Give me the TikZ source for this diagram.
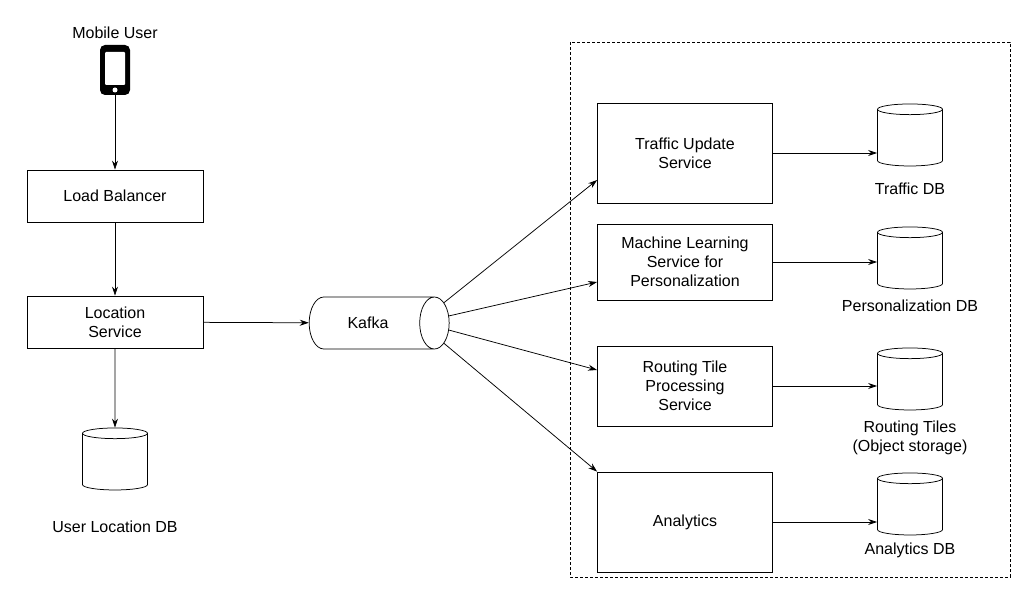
\documentclass[tikz,border=0pt]{standalone}
\usepackage{fontspec}
\setmainfont{Liberation Sans}
\usetikzlibrary{shapes.geometric,arrows.meta}
\tikzset{every picture/.style={line width=0.75pt},
  box/.style={draw,minimum width=176pt,align=center,font=\fontsize{16}{19}\selectfont},
  svc/.style={draw,minimum width=175pt,align=center,font=\fontsize{16}{19}\selectfont},
  db/.style={draw,cylinder,shape border rotate=90,shape aspect=1.6,minimum width=65pt,minimum height=62pt},
  lbl/.style={align=center,font=\fontsize{16}{19}\selectfont},
  arr/.style={-{Stealth[length=9pt,width=6pt]}}}
\begin{document}
\begin{tikzpicture}[x=1pt,y=-1pt]
	\useasboundingbox (0,0) rectangle (1030,599);

	% Mobile user
	\node[lbl] (user) at (115,33) {Mobile User};
	\node[fill=black,rounded corners=5pt,minimum width=30pt,minimum height=50pt,inner sep=0pt] (phone) at (115,70) {};
	\fill[white,rounded corners=1pt] (105,52) rectangle (125,85);
	\fill[white] (115,90) circle (2.5pt);

	% left column
	\node[box,minimum height=52pt] (lb) at (115,196) {Load Balancer};
	\node[box,minimum height=52pt] (loc) at (115,322) {Location\\Service};
	\node[db] (udb) at (115,463) {};
	\node[lbl] (udbl) at (115,527) {User Location DB};

	% Kafka
	\node[draw,cylinder,shape aspect=1.6,minimum width=52pt,minimum height=140pt,lbl] (kafka) at (368,323) {Kafka};

	% dashed group
	\draw[dash pattern={on 3pt off 2pt}] (570,42) rectangle (1010,577);

	% services
	\node[svc,minimum height=100pt] (traffic) at (685,153) {Traffic Update\\Service};
	\node[svc,minimum height=76pt] (ml) at (685,262) {Machine Learning\\Service for\\Personalization};
	\node[svc,minimum height=80pt] (tile) at (685,386) {Routing Tile\\Processing\\Service};
	\node[svc,minimum height=100pt] (ana) at (685,522) {Analytics};

	% databases
	\node[db] (tdb) at (910,139) {};
	\node[lbl] (tdbl) at (910,189) {Traffic DB};
	\node[db] (pdb) at (910,262) {};
	\node[lbl] (pdbl) at (910,306) {Personalization DB};
	\node[db] (rdb) at (910,383) {};
	\node[lbl] (rdbl) at (910,438) {Routing Tiles\\(Object storage)};
	\node[db] (adb) at (910,508) {};
	\node[lbl] (adbl) at (910,550) {Analytics DB};

	% connectors
	\draw[arr] (phone) -- (lb);
	\draw[arr] (lb) -- (loc);
	\draw[arr] (loc) -- (udb);
	\draw[arr] (loc) -- (kafka);
	\draw[arr] (kafka.15) -- (traffic.south west |- 0,180);
	\draw[arr] (kafka.5) -- (ml.south west |- 0,282);
	\draw[arr] (kafka.-5) -- (tile.west |- 0,370);
	\draw[arr] (kafka.-15) -- (ana.north west);
	\draw[arr] (traffic) -- (tdb.west |- traffic);
	\draw[arr] (ml) -- (pdb.west |- ml);
	\draw[arr] (tile) -- (rdb.west |- tile);
	\draw[arr] (ana) -- (adb.west |- ana);
\end{tikzpicture}
\end{document}
